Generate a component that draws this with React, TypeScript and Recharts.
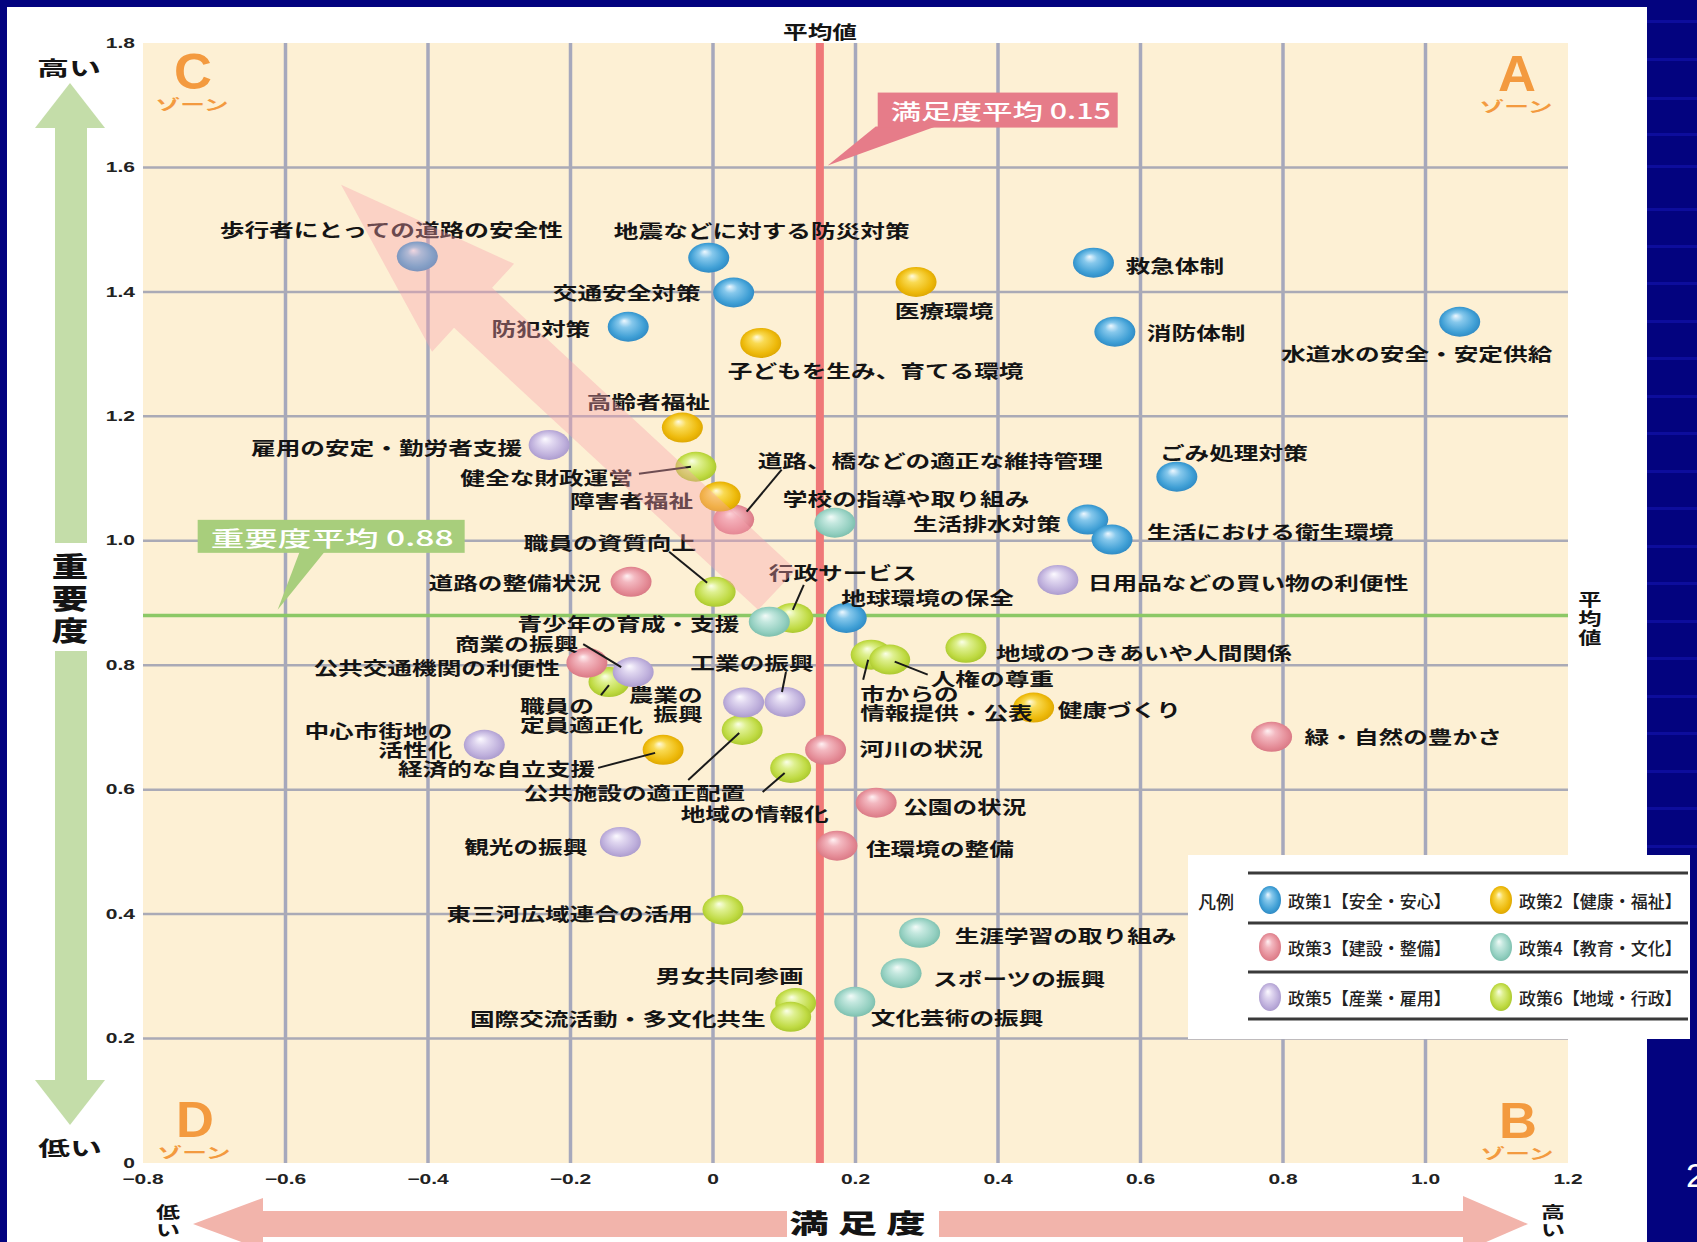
import React from 'react';
import { ScatterChart, Scatter, XAxis, YAxis, CartesianGrid, ReferenceLine } from 'recharts';

const W = 1697;
const H = 1242;
const NAVY = '#03037f';
const JP = '"Noto Sans CJK JP", "Noto Sans", sans-serif';
const LAT = '"Liberation Sans", Arial, sans-serif';
const S = 1.37; // the original picture is stretched sideways

const xTicks = [-0.8, -0.6, -0.4, -0.2, 0, 0.2, 0.4, 0.6, 0.8, 1.0, 1.2];
const yTicks = [0, 0.2, 0.4, 0.6, 0.8, 1.0, 1.2, 1.4, 1.6, 1.8];
const satisfactionMean = 0.15;
const importanceMean = 0.88;

const policyNames = [
  '政策1【安全・安心】',
  '政策2【健康・福祉】',
  '政策3【建設・整備】',
  '政策4【教育・文化】',
  '政策5【産業・雇用】',
  '政策6【地域・行政】',
];

// 政策1 安全・安心
const safety = [
  { name: '歩行者にとっての道路の安全性', x: -0.415, y: 1.457 },
  { name: '地震などに対する防災対策', x: -0.006, y: 1.455 },
  { name: '交通安全対策', x: 0.029, y: 1.399 },
  { name: '防犯対策', x: -0.119, y: 1.344 },
  { name: '救急体制', x: 0.534, y: 1.447 },
  { name: '消防体制', x: 0.564, y: 1.336 },
  { name: '水道水の安全・安定供給', x: 1.048, y: 1.352 },
  { name: 'ごみ処理対策', x: 0.651, y: 1.103 },
  { name: '生活排水対策', x: 0.526, y: 1.034 },
  { name: '生活における衛生環境', x: 0.56, y: 1.002 },
  { name: '地球環境の保全', x: 0.187, y: 0.876 },
];

// 政策2 健康・福祉
const health = [
  { name: '医療環境', x: 0.285, y: 1.416 },
  { name: '子どもを生み、育てる環境', x: 0.067, y: 1.318 },
  { name: '高齢者福祉', x: -0.043, y: 1.182 },
  { name: '障害者福祉', x: 0.01, y: 1.071 },
  { name: '健康づくり', x: 0.45, y: 0.732 },
  { name: '経済的な自立支援', x: -0.07, y: 0.664 },
];

// 政策3 建設・整備
const construction = [
  { name: '道路、橋などの適正な維持管理', x: 0.029, y: 1.034 },
  { name: '道路の整備状況', x: -0.115, y: 0.934 },
  { name: '公共交通機関の利便性', x: -0.177, y: 0.804 },
  { name: '河川の状況', x: 0.158, y: 0.664 },
  { name: '緑・自然の豊かさ', x: 0.784, y: 0.685 },
  { name: '公園の状況', x: 0.229, y: 0.579 },
  { name: '住環境の整備', x: 0.174, y: 0.51 },
];

// 政策4 教育・文化
const education = [
  { name: '学校の指導や取り組み', x: 0.171, y: 1.029 },
  { name: '青少年の育成・支援', x: 0.079, y: 0.87 },
  { name: '生涯学習の取り組み', x: 0.29, y: 0.37 },
  { name: 'スポーツの振興', x: 0.264, y: 0.305 },
  { name: '文化芸術の振興', x: 0.199, y: 0.259 },
];

// 政策5 産業・雇用
const industry = [
  { name: '雇用の安定・勤労者支援', x: -0.23, y: 1.154 },
  { name: '日用品などの買い物の利便性', x: 0.484, y: 0.937 },
  { name: '商業の振興', x: -0.112, y: 0.789 },
  { name: '農業の振興', x: 0.043, y: 0.74 },
  { name: '工業の振興', x: 0.101, y: 0.741 },
  { name: '中心市街地の活性化', x: -0.321, y: 0.672 },
  { name: '観光の振興', x: -0.13, y: 0.516 },
];

// 政策6 地域・行政
const community = [
  { name: '健全な財政運営', x: -0.024, y: 1.119 },
  { name: '職員の資質向上', x: 0.003, y: 0.918 },
  { name: '行政サービス', x: 0.112, y: 0.876 },
  { name: '職員の定員適正化', x: -0.146, y: 0.773 },
  { name: '公共施設の適正配置', x: 0.041, y: 0.696 },
  { name: '地域の情報化', x: 0.109, y: 0.635 },
  { name: '市からの情報提供・公表', x: 0.222, y: 0.817 },
  { name: '人権の尊重', x: 0.248, y: 0.809 },
  { name: '地域のつきあいや人間関係', x: 0.355, y: 0.828 },
  { name: '東三河広域連合の活用', x: 0.014, y: 0.407 },
  { name: '男女共同参画', x: 0.116, y: 0.257 },
  { name: '国際交流活動・多文化共生', x: 0.109, y: 0.235 },
];

const policies = [
  { id: 'p1', label: policyNames[0], data: safety },
  { id: 'p2', label: policyNames[1], data: health },
  { id: 'p3', label: policyNames[2], data: construction },
  { id: 'p4', label: policyNames[3], data: education },
  { id: 'p5', label: policyNames[4], data: industry },
  { id: 'p6', label: policyNames[5], data: community },
];
const drawOrder = ['p6', 'p4', 'p3', 'p5', 'p2', 'p1'];
const allPoints = policies.flatMap((p) => p.data);

// anchors of the decorations, in chart units
const arrowTip = [{ x: -0.522, y: 1.572 }];
const satCalloutTip = [{ x: 0.161, y: 1.603 }];
const impCalloutTip = [{ x: -0.611, y: 0.889 }];

const shades: Record<string, string[]> = {
  p1: ['#eef8ff', '#86c8ec', '#3f9fd5', '#2b84bf'],
  p2: ['#fffbe2', '#f9da52', '#edb90a', '#d9a200'],
  p3: ['#fff1f3', '#f3b8c0', '#e48b96', '#d67480'],
  p4: ['#f3fbf8', '#c4e8df', '#93cfc0', '#76baa8'],
  p5: ['#fcfaff', '#e0d7f0', '#bdaedb', '#a696c9'],
  p6: ['#fbffe8', '#def08f', '#bfda42', '#a5c22a'],
};

type Lay = { a: 'start' | 'middle' | 'end'; dx: number; dy: number; lines?: string[]; leader?: number[] };

// where each label sits next to its ball (pixels)
const labelLayout: Record<string, Lay> = {
  '歩行者にとっての道路の安全性': { a: 'middle', dx: -26, dy: -27 },
  '地震などに対する防災対策': { a: 'middle', dx: 53, dy: -28 },
  '交通安全対策': { a: 'end', dx: -33, dy: 0 },
  '防犯対策': { a: 'end', dx: -38, dy: 1 },
  '救急体制': { a: 'start', dx: 32, dy: 2 },
  '消防体制': { a: 'start', dx: 32, dy: 0 },
  '水道水の安全・安定供給': { a: 'middle', dx: -43, dy: 31 },
  'ごみ処理対策': { a: 'middle', dx: 57, dy: -25 },
  '生活排水対策': { a: 'end', dx: -27, dy: 3 },
  '生活における衛生環境': { a: 'start', dx: 35, dy: -8 },
  '地球環境の保全': { a: 'start', dx: -5, dy: -21 },
  '医療環境': { a: 'middle', dx: 28, dy: 28 },
  '子どもを生み、育てる環境': { a: 'start', dx: -33, dy: 27 },
  '高齢者福祉': { a: 'middle', dx: -34, dy: -26 },
  '障害者福祉': { a: 'end', dx: -27, dy: 3 },
  '健康づくり': { a: 'start', dx: 24, dy: 2 },
  '経済的な自立支援': { a: 'end', dx: -68, dy: 18, leader: [-65, 18, -8, 3] },
  '道路の整備状況': { a: 'end', dx: -30, dy: 0 },
  '公共交通機関の利便性': { a: 'end', dx: -27, dy: 4 },
  '河川の状況': { a: 'start', dx: 34, dy: -2 },
  '緑・自然の豊かさ': { a: 'start', dx: 33, dy: -1 },
  '公園の状況': { a: 'start', dx: 27, dy: 3 },
  '住環境の整備': { a: 'start', dx: 29, dy: 2 },
  '道路、橋などの適正な維持管理': { a: 'start', dx: 24, dy: -60, leader: [13, -8, 48, -50] },
  '学校の指導や取り組み': { a: 'start', dx: -52, dy: -25 },
  '青少年の育成・支援': { a: 'end', dx: -30, dy: 1 },
  '生涯学習の取り組み': { a: 'start', dx: 35, dy: 2 },
  'スポーツの振興': { a: 'start', dx: 32, dy: 5 },
  '文化芸術の振興': { a: 'start', dx: 16, dy: 15 },
  '雇用の安定・勤労者支援': { a: 'end', dx: -27, dy: 2 },
  '日用品などの買い物の利便性': { a: 'start', dx: 30, dy: 2 },
  '商業の振興': { a: 'end', dx: -55, dy: -29, leader: [-50, -28, -12, -5] },
  '農業の振興': { a: 'end', dx: -41, dy: -8, lines: ['農業の', '振興'] },
  '工業の振興': { a: 'middle', dx: -33, dy: -40, leader: [-3, -10, 1, -30] },
  '中心市街地の活性化': { a: 'end', dx: -32, dy: -15, lines: ['中心市街地の', '活性化'] },
  '観光の振興': { a: 'end', dx: -33, dy: 4 },
  '健全な財政運営': { a: 'end', dx: -63, dy: 10, leader: [-57, 7, -5, 0] },
  '職員の資質向上': { a: 'end', dx: -19, dy: -50, leader: [-46, -40, -8, -9] },
  '行政サービス': { a: 'start', dx: -24, dy: -46, leader: [0, -8, 11, -33] },
  '職員の定員適正化': { a: 'start', dx: -89, dy: 23, lines: ['職員の', '定員適正化'], leader: [-8, 13, 0, 3] },
  '公共施設の適正配置': { a: 'end', dx: 3, dy: 62, leader: [-54, 50, -3, 3] },
  '地域の情報化': { a: 'middle', dx: -36, dy: 45, leader: [-28, 24, -6, 5] },
  '市からの情報提供・公表': { a: 'start', dx: -11, dy: 38, lines: ['市からの', '情報提供・公表'], leader: [-3, 5, -8, 25] },
  '人権の尊重': { a: 'start', dx: 41, dy: 18, leader: [5, 2, 38, 15] },
  '地域のつきあいや人間関係': { a: 'start', dx: 30, dy: 4 },
  '東三河広域連合の活用': { a: 'end', dx: -30, dy: 3 },
  '男女共同参画': { a: 'end', dx: 8, dy: -28 },
  '国際交流活動・多文化共生': { a: 'end', dx: -25, dy: 1 },
};

const SText = ({ x, y, s = S, size, anchor = 'middle', weight = 700, fill = '#141414', family = JP, children }: any) => (
  <g transform={`translate(${x},${y}) scale(${s},1)`}>
    <text textAnchor={anchor} dominantBaseline="central" fontSize={size} fontWeight={weight} fill={fill} fontFamily={family}>
      {children}
    </text>
  </g>
);

const fmt = (v: number) => (v === 0 ? '0' : v < 0 ? '\u2212' + Math.abs(v).toFixed(1) : v.toFixed(1));

const renderXTick = (p: any) => (
  <g key={p.index} transform={`translate(${p.x},${p.y + 2}) scale(1.5,1)`}>
    <text textAnchor="middle" dy="0.75em" fontSize={14} fontWeight={700} fill="#222" fontFamily={LAT}>
      {fmt(p.payload.value)}
    </text>
  </g>
);

const renderYTick = (p: any) => (
  <g key={p.index} transform={`translate(${p.x},${p.y}) scale(1.5,1)`}>
    <text textAnchor="end" dominantBaseline="central" fontSize={14} fontWeight={700} fill="#222" fontFamily={LAT}>
      {fmt(p.payload.value)}
    </text>
  </g>
);

const ball = (id: string) => (p: any) => <ellipse cx={p.cx} cy={p.cy} rx={20.5} ry={15} fill={`url(#ball-${id})`} />;

const LabelShape = (p: any) => {
  const lay = labelLayout[p.payload.name];
  if (!lay) return <g />;
  const lines = lay.lines || [p.payload.name];
  return (
    <g>
      {lay.leader && (
        <line
          x1={p.cx + lay.leader[0]}
          y1={p.cy + lay.leader[1]}
          x2={p.cx + lay.leader[2]}
          y2={p.cy + lay.leader[3]}
          stroke="#1a1a1a"
          strokeWidth={2}
        />
      )}
      {lines.map((t, i) => (
        <SText key={i} x={p.cx + lay.dx} y={p.cy + lay.dy + i * 19} size={18} anchor={lay.a}>
          {t}
        </SText>
      ))}
    </g>
  );
};

const ArrowShape = (p: any) => {
  const pts = [
    [0, 0],
    [173, 79],
    [151, 103],
    [455, 385],
    [417, 425],
    [113, 143],
    [91, 167],
  ]
    .map(([dx, dy]) => `${p.cx + dx},${p.cy + dy}`)
    .join(' ');
  return <polygon points={pts} fill="#f7a0ae" fillOpacity={0.38} />;
};

const SatCallout = (p: any) => (
  <g>
    <polygon points={`${p.cx},${p.cy} ${p.cx + 48},${p.cy - 39} ${p.cx + 108},${p.cy - 39}`} fill="#e67c89" />
    <rect x={p.cx + 50} y={p.cy - 73} width={240} height={35} fill="#e67c89" />
    <SText x={p.cx + 63} y={p.cy - 55} size={21} anchor="start" weight={500} fill="#fff" s={1.45}>
      満足度平均 0.15
    </SText>
  </g>
);

const ImpCallout = (p: any) => (
  <g>
    <polygon points={`${p.cx},${p.cy} ${p.cx + 22},${p.cy - 58} ${p.cx + 47},${p.cy - 58}`} fill="#a8ce7c" />
    <rect x={p.cx - 80} y={p.cy - 90} width={267} height={33} fill="#a8ce7c" />
    <SText x={p.cx - 67} y={p.cy - 73} size={21} anchor="start" weight={500} fill="#fff" s={1.6}>
      重要度平均 0.88
    </SText>
  </g>
);

const zones = [
  { letter: 'C', x: 193, y: 72 },
  { letter: 'A', x: 1517, y: 74 },
  { letter: 'D', x: 195, y: 1120 },
  { letter: 'B', x: 1518, y: 1121 },
];

const legendRows = [873, 923, 972, 1019];

export default function App() {
  const gridX = xTicks.slice(1, -1);
  const gridY = yTicks.slice(1, -1);
  return (
    <div style={{ position: 'absolute', left: 0, top: 0, width: W, height: H, background: NAVY, overflow: 'hidden' }}>
      <svg width={0} height={0} style={{ position: 'absolute' }}>
        <defs>
          {policies.map((p) => (
            <radialGradient key={p.id} id={`ball-${p.id}`} cx="50%" cy="50%" r="55%" fx="40%" fy="30%">
              <stop offset="0" stopColor={shades[p.id][0]} />
              <stop offset="0.3" stopColor={shades[p.id][1]} />
              <stop offset="0.75" stopColor={shades[p.id][2]} />
              <stop offset="1" stopColor={shades[p.id][3]} />
            </radialGradient>
          ))}
        </defs>
      </svg>
      {[20, 58, 97, 133, 165, 208, 245, 282, 320, 357, 395, 432, 470, 507, 545, 582, 620, 657, 695, 732, 770, 807, 845].map((y) => (
        <div key={y} style={{ position: 'absolute', left: 1647, top: y, width: 50, height: 3, background: '#0d0d9c' }} />
      ))}
      <div style={{ position: 'absolute', left: 7, top: 7, width: 1640, height: H - 7, background: '#fff' }} />
      <div style={{ position: 'absolute', left: 0, top: 0 }}>
        <ScatterChart width={W} height={H} margin={{ top: 43, right: 129, bottom: 49, left: 83 }}>
          <CartesianGrid horizontal={false} vertical={false} fill="#fdf0d4" fillOpacity={1} />
          <XAxis
            type="number"
            dataKey="x"
            domain={[-0.8, 1.2]}
            ticks={xTicks}
            interval={0}
            height={30}
            axisLine={false}
            tickLine={false}
            tick={renderXTick}
          />
          <YAxis
            type="number"
            dataKey="y"
            domain={[0, 1.8]}
            ticks={yTicks}
            interval={0}
            width={60}
            axisLine={false}
            tickLine={false}
            tick={renderYTick}
          />
          {gridX.map((v) => (
            <ReferenceLine key={'gx' + v} x={v} stroke="#a6a8bc" strokeWidth={3.5} />
          ))}
          {gridY.map((v) => (
            <ReferenceLine key={'gy' + v} y={v} stroke="#aaaab6" strokeWidth={2.5} />
          ))}
          <ReferenceLine x={satisfactionMean} stroke="#ef7878" strokeWidth={8} />
          <ReferenceLine y={importanceMean} stroke="#8cc866" strokeWidth={3.5} />
          {drawOrder.map((id) => {
            const p = policies.find((q) => q.id === id)!;
            return <Scatter key={id} name={p.label} data={p.data} shape={ball(id)} isAnimationActive={false} />;
          })}
          <Scatter data={allPoints} shape={LabelShape} isAnimationActive={false} />
          <Scatter data={arrowTip} shape={ArrowShape} isAnimationActive={false} />
          <Scatter data={satCalloutTip} shape={SatCallout} isAnimationActive={false} />
          <Scatter data={impCalloutTip} shape={ImpCallout} isAnimationActive={false} />
        </ScatterChart>
      </div>
      <svg width={W} height={H} style={{ position: 'absolute', left: 0, top: 0, pointerEvents: 'none' }}>
        {/* vertical axis arrow */}
        <polygon points="35,128 105,128 70,83" fill="#c4dda9" />
        <rect x={55} y={128} width={32} height={952} fill="#c4dda9" />
        <polygon points="35,1080 105,1080 70,1125" fill="#c4dda9" />
        <rect x={46} y={543} width={50} height={108} fill="#fff" />
        {['重', '要', '度'].map((c, i) => (
          <SText key={c} x={70} y={565 + i * 32} size={27} s={1.35} weight={900}>
            {c}
          </SText>
        ))}
        <SText x={69} y={67} size={20} s={1.6}>高い</SText>
        <SText x={70} y={1147} size={20} s={1.6}>低い</SText>

        {/* horizontal axis arrow */}
        <polygon points="193,1224 263,1198 263,1250" fill="#f2b4ab" />
        <rect x={263} y={1211} width={1200} height={26} fill="#f2b4ab" />
        <polygon points="1528,1224 1463,1196 1463,1252" fill="#f2b4ab" />
        <rect x={787} y={1200} width={152} height={42} fill="#fff" />
        {['満', '足', '度'].map((c, i) => (
          <SText key={c} x={809 + i * 48.5} y={1222} size={26} s={1.5} weight={900}>
            {c}
          </SText>
        ))}
        <SText x={168} y={1211} size={16} s={1.5}>低</SText>
        <SText x={168} y={1229} size={16} s={1.5}>い</SText>
        <SText x={1553} y={1211} size={16} s={1.5}>高</SText>
        <SText x={1553} y={1229} size={16} s={1.5}>い</SText>

        {/* mean captions */}
        <SText x={820} y={31} size={18}>平均値</SText>
        {['平', '均', '値'].map((c, i) => (
          <SText key={c} x={1590} y={598 + i * 19} size={17}>
            {c}
          </SText>
        ))}

        {/* zone letters */}
        {zones.map((z) => (
          <g key={z.letter}>
            <SText x={z.x} y={z.y} size={50} s={1.05} weight={700} fill="#f39a3f" family={LAT}>
              {z.letter}
            </SText>
            <SText x={z.x - 1} y={z.y + 31} size={15} s={1.65} weight={700} fill="#f39a3f">
              ゾーン
            </SText>
          </g>
        ))}

        {/* legend */}
        <rect x={1188} y={855} width={502} height={184} fill="#fff" />
        <SText x={1216} y={901} size={18} s={1} weight={500} fill="#222">
          凡例
        </SText>
        {legendRows.map((y) => (
          <line key={y} x1={1248} x2={1688} y1={y} y2={y} stroke="#3a3a3a" strokeWidth={3} />
        ))}
        {policies.map((p, i) => {
          const col = i % 2;
          const row = Math.floor(i / 2);
          const mx = col === 0 ? 1270 : 1501;
          const my = [900, 947, 997][row];
          return (
            <g key={p.id}>
              <ellipse cx={mx} cy={my} rx={11} ry={14} fill={`url(#ball-${p.id})`} />
              <SText x={mx + 18} y={my} size={17} s={1} anchor="start" weight={500} fill="#222">
                {p.label}
              </SText>
            </g>
          );
        })}

        {/* slide number */}
        <text x={1686} y={1187} fontSize={34} fill="#fff" fontFamily={LAT}>
          2
        </text>
      </svg>
    </div>
  );
}
